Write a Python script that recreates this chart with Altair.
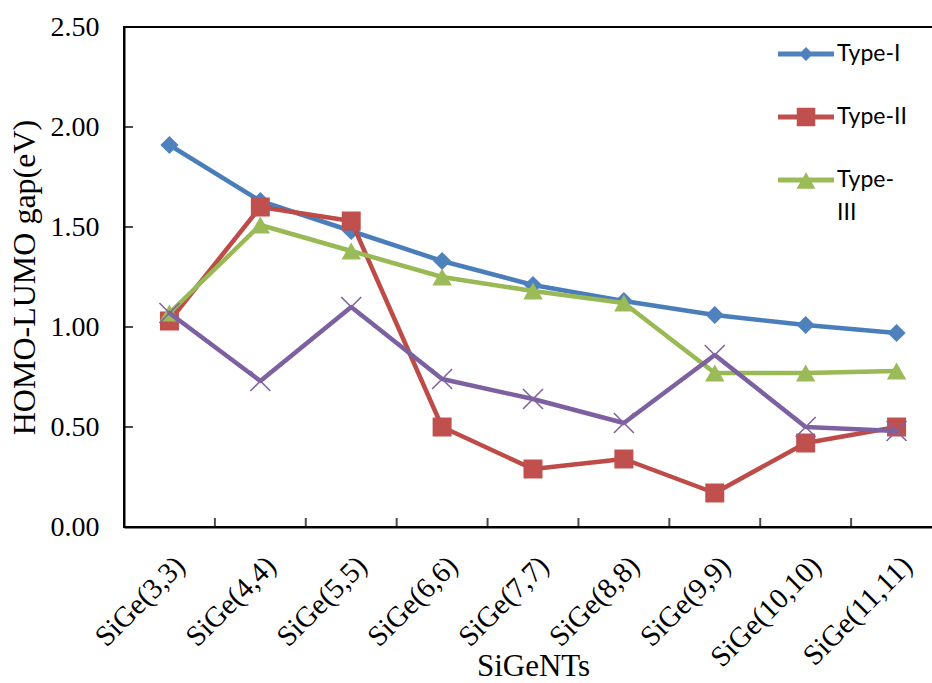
import altair as alt
import pandas as pd

# Armchair SiGe nanotubes on the x axis
categories = [
    "SiGe(3,3)", "SiGe(4,4)", "SiGe(5,5)", "SiGe(6,6)", "SiGe(7,7)",
    "SiGe(8,8)", "SiGe(9,9)", "SiGe(10,10)", "SiGe(11,11)",
]

# HOMO-LUMO gaps (eV) for each nanotube type
series_names = ["Type-I", "Type-II", "Type-III", "Type-IV"]
type_i = [1.91, 1.63, 1.48, 1.33, 1.21, 1.13, 1.06, 1.01, 0.97]
type_ii = [1.03, 1.60, 1.53, 0.50, 0.29, 0.34, 0.17, 0.42, 0.50]
type_iii = [1.07, 1.51, 1.38, 1.25, 1.18, 1.12, 0.77, 0.77, 0.78]
type_iv = [1.07, 0.73, 1.10, 0.74, 0.64, 0.52, 0.86, 0.50, 0.48]

y_ticks = [0.0, 0.5, 1.0, 1.5, 2.0, 2.5]

line_colors = ["#4A7EBB", "#BE4B48", "#98B954", "#7D60A0"]
marker_colors = ["#4F81BD", "#C0504D", "#9BBB59", "#8064A2"]
marker_shapes = ["diamond", "square", "triangle-up", "M-1,-1L1,1M-1,1L1,-1"]
marker_sizes = [330, 361, 380, 400]

# legend glyphs: a short line segment with the series marker in the middle
legend_paths = [
    "M-1,-0.09L1,-0.09L1,0.09L-1,0.09Z M0,-0.25L0.25,0L0,0.25L-0.25,0Z",
    "M-1,-0.09L1,-0.09L1,0.09L-1,0.09Z M-0.33,-0.33L0.33,-0.33L0.33,0.33L-0.33,0.33Z",
    "M-1,-0.09L1,-0.09L1,0.09L-1,0.09Z M0,-0.28L0.34,0.31L-0.34,0.31Z",
]

rows = []
for name, vals in zip(series_names, [type_i, type_ii, type_iii, type_iv]):
    for site, v in zip(categories, vals):
        rows.append({"site": site, "series": name, "gap": v})
df = pd.DataFrame(rows)

SERIF = "Liberation Serif"

x_enc = alt.X(
    "site:N",
    sort=categories,
    scale=alt.Scale(type="band", paddingInner=0, paddingOuter=0),
    axis=alt.Axis(
        title="SiGeNTs",
        titleFont=SERIF,
        titleFontSize=31,
        titleFontWeight="normal",
        titleColor="black",
        titleY=148,
        titleBaseline="alphabetic",
        labelFont=SERIF,
        labelFontSize=29,
        labelColor="black",
        labelAngle=-45,
        labelAlign="right",
        labelBaseline="top",
        labelPadding=24,
        labelOffset=1,
        ticks=False,
        domainColor="black",
        domainWidth=2,
        grid=False,
    ),
)
y_enc = alt.Y(
    "gap:Q",
    scale=alt.Scale(domain=[0, 2.5], nice=False),
    axis=alt.Axis(
        title="HOMO-LUMO gap(eV)",
        titleFont=SERIF,
        titleFontSize=32,
        titleFontWeight="normal",
        titleColor="black",
        titlePadding=9,
        values=y_ticks,
        format=".2f",
        labelFont=SERIF,
        labelFontSize=28,
        labelColor="black",
        labelPadding=25,
        ticks=False,
        domainColor="black",
        domainWidth=2,
        grid=False,
    ),
)

base = alt.Chart(df)
layers = []
for i, name in enumerate(series_names):
    sub = base.transform_filter(alt.datum.series == name)
    layers.append(
        sub.mark_line(
            color=line_colors[i], strokeWidth=4.5, strokeJoin="round", strokeCap="round"
        ).encode(x=x_enc, y=y_enc)
    )
    if i < 3:
        pts = sub.mark_point(
            shape=marker_shapes[i], filled=True, size=marker_sizes[i],
            color=marker_colors[i], opacity=1,
        )
    else:
        pts = sub.mark_point(
            shape=marker_shapes[i], filled=False, size=marker_sizes[i],
            color=marker_colors[i], strokeWidth=1.6, opacity=1,
        )
    layers.append(pts.encode(x=x_enc, y=y_enc))

# inward tick marks on both axes
x_ticks = alt.Chart(pd.DataFrame({"site": categories})).mark_tick(
    orient="vertical", size=9, thickness=2, color="black", yOffset=-4.5
).encode(
    x=alt.X("site:N", sort=categories, bandPosition=0),
    y=alt.datum(0),
)
y_tick_marks = alt.Chart(pd.DataFrame({"gap": y_ticks})).mark_tick(
    orient="horizontal", size=9, thickness=2, color="black", xOffset=4.5
).encode(
    x=alt.value(0),
    y=alt.Y("gap:Q"),
)

legend = alt.Legend(
    title=None,
    orient="none",
    legendX=654,
    legendY=-1,
    labelExpr="datum.label == 'Type-III' ? ['Type-', 'III'] : datum.label",
)
legend_layer = base.transform_filter(alt.datum.gap < 0).mark_point(
    filled=True, opacity=1
).encode(
    x=alt.X("site:N", sort=categories),
    y=alt.Y("gap:Q"),
    color=alt.Color(
        "series:N",
        scale=alt.Scale(domain=series_names[:3], range=marker_colors[:3]),
        legend=legend,
    ),
    shape=alt.Shape(
        "series:N",
        scale=alt.Scale(domain=series_names[:3], range=legend_paths),
        legend=legend,
    ),
)

chart = (
    alt.layer(*layers, x_ticks, y_tick_marks, legend_layer)
    .properties(
        width=818,
        height=500,
        autosize=alt.AutoSizeParams(type="none"),
        padding={"left": 124, "top": 27, "right": -10, "bottom": 156},
        background="white",
    )
    .configure(style={"guide-label": {"lineHeight": 33}})
    .configure_view(stroke="black", strokeWidth=2)
    .configure_legend(
        labelFont="Lato",
        labelFontSize=23,
        labelColor="black",
        labelOffset=3,
        labelLimit=300,
        symbolSize=3136,
        symbolStrokeWidth=0,
        rowPadding=23,
        padding=0,
    )
)

chart.save("out.html", embed_options={"renderer": "svg", "actions": False})
